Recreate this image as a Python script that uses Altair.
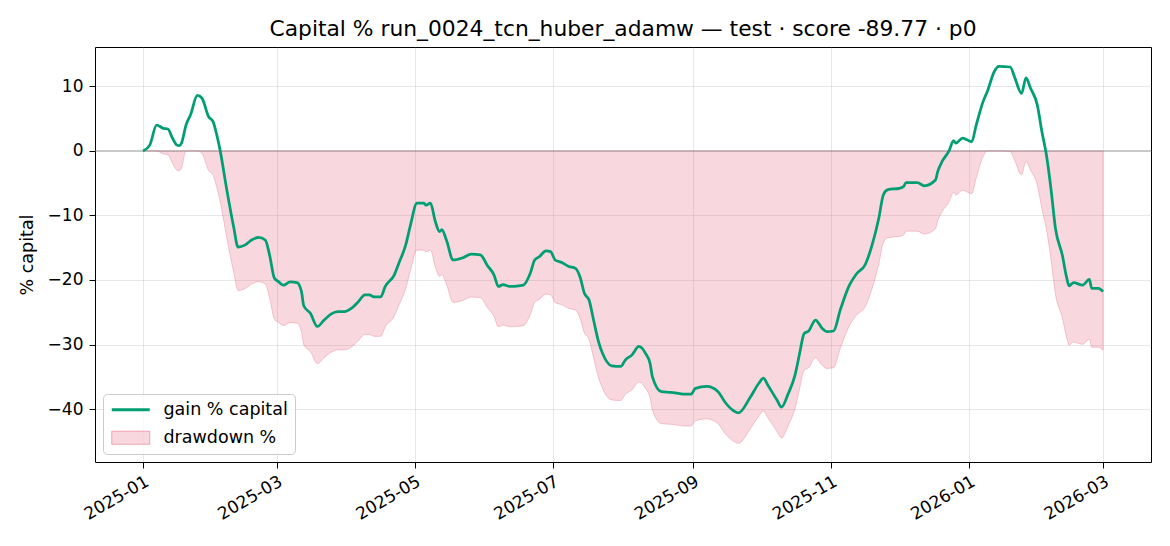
import altair as alt
import numpy as np
import pandas as pd

FONT = "DejaVu Sans"
TITLE = "Capital % run_0024_tcn_huber_adamw — test · score -89.77 · p0"

START = pd.Timestamp("2025-01-01")

# day offsets from START and gain % capital
DAYS = [0, 3, 6, 9, 11, 13, 15, 16, 17, 19, 21, 24, 26, 29, 31, 32, 34, 37, 40, 42,
        45, 48, 51, 54, 56, 58, 60, 62, 65, 68, 70, 71, 74, 77, 80, 83, 86, 89, 92, 95,
        98, 100, 102, 105, 107, 111, 113, 116, 118, 121, 124, 125, 127, 129, 131, 132, 134, 137, 141, 145,
        149, 152, 155, 157, 159, 162, 166, 168, 171, 173, 175, 178, 180, 182, 185, 188, 191, 193, 195, 197,
        199, 201, 203, 207, 211, 213, 216, 219, 222, 224, 225, 229, 233, 237, 239, 242, 244, 249, 254, 257,
        261, 263, 268, 272, 274, 276, 280, 282, 285, 288, 290, 292, 294, 297, 300, 302, 305, 308, 312, 315,
        319, 322, 325, 327, 329, 334, 336, 337, 342, 345, 350, 351, 353, 356, 358, 359, 362, 366, 368, 371,
        373, 376, 378, 383, 385, 388, 390, 392, 395, 397, 399, 401, 403, 406, 408, 409, 411, 415, 418, 419,
        422, 424]
GAIN = [0.0, 0.9, 4.0, 3.5, 3.4, 2.0, 0.9, 0.8, 1.2, 4.0, 5.6, 8.6, 8.2, 5.3, 4.5, 3.3, 0.2, -6.0, -11.7, -14.9,
        -14.6, -13.8, -13.4, -13.8, -16.3, -19.7, -20.3, -20.8, -20.3, -20.4, -21.8, -24.0, -25.2, -27.2, -26.2, -25.3, -24.9, -24.9, -24.4, -23.4,
        -22.3, -22.3, -22.6, -22.6, -21.0, -19.2, -17.4, -14.6, -11.7, -8.1, -8.1, -8.4, -8.1, -10.8, -12.5, -12.2, -13.8, -16.9, -16.6, -16.0,
        -16.1, -17.7, -19.2, -21.0, -20.7, -21.0, -20.9, -20.8, -19.0, -16.9, -16.4, -15.5, -15.6, -16.9, -17.3, -17.9, -18.2, -19.5, -22.1, -23.1,
        -26.2, -29.3, -31.4, -33.3, -33.4, -32.4, -31.6, -30.3, -31.4, -33.0, -35.0, -37.3, -37.4, -37.6, -37.7, -37.7, -36.8, -36.5, -37.3, -38.9,
        -40.3, -40.6, -38.3, -36.0, -35.2, -36.3, -38.6, -39.7, -37.6, -34.7, -31.4, -28.3, -27.9, -26.2, -27.5, -28.0, -27.9, -24.6, -20.8, -19.1,
        -17.6, -14.6, -10.4, -6.8, -6.0, -5.8, -5.5, -4.9, -4.9, -5.4, -4.5, -3.2, -1.6, 0.0, 1.6, 1.2, 2.0, 1.4, 4.0, 7.6,
        9.3, 12.3, 13.1, 13.0, 11.4, 8.9, 11.3, 9.7, 7.1, 3.0, -0.6, -5.8, -12.0, -16.1, -19.7, -20.9, -20.4, -20.8, -19.9, -21.3,
        -21.3, -21.8]

SERIES = ["gain % capital", "drawdown %"]
Y_TICKS = [10, 0, -10, -20, -30, -40]
X_TICKS = ["2025-01", "2025-03", "2025-05", "2025-07", "2025-09", "2025-11", "2026-01", "2026-03"]

GREEN = "#009E73"
PINK = "#e35f7b"

# legend key styles: thin bar for the line, framed patch for the area
KEY_SHAPES = ["M-1,-0.2H4.43V0.2H-1Z", "M-1,-0.93H4.43V0.93H-1Z"]
KEY_FILLS = [GREEN, "rgba(227,95,123,0.25)"]
KEY_STROKES = ["transparent", "rgba(227,95,123,0.5)"]

# derive drawdown from the gain curve
dates = START + pd.to_timedelta(DAYS, unit="D")
equity = 1 + np.array(GAIN) / 100
peak = np.maximum.accumulate(np.maximum(equity, 1.0))
drawdown = (equity / peak - 1) * 100

gain_df = pd.DataFrame({"date": dates, "value": GAIN})
dd_df = pd.DataFrame({"date": dates, "value": drawdown})
zero_df = pd.DataFrame({"value": [0]})
key_df = pd.DataFrame({"series": SERIES})

x_ticks = [alt.DateTime(year=int(s[:4]), month=int(s[5:]), date=1) for s in X_TICKS]
x_dom = [alt.DateTime(year=2024, month=12, date=10, hours=19, minutes=12),
         alt.DateTime(year=2026, month=3, date=22, hours=4, minutes=48)]

legend = alt.Legend(
    title=None, orient="bottom-left", offset=8,
    symbolSize=196, symbolStrokeWidth=1, symbolOpacity=1, labelOffset=36,
    labelFont=FONT, labelFontSize=17.5, labelColor="black", rowPadding=9, padding=7,
    fillColor="rgba(255,255,255,0.8)", strokeColor="#cccccc", cornerRadius=4,
)

x = alt.X("date:T", scale=alt.Scale(domain=x_dom),
          axis=alt.Axis(values=x_ticks, format="%Y-%m", title=None, labelAngle=-30,
                        labelAlign="right", labelBaseline="top", labelPadding=5))
y = alt.Y("value:Q", scale=alt.Scale(domain=[-48.2, 16.1], nice=False, zero=False),
          axis=alt.Axis(values=Y_TICKS, title="% capital", titlePadding=11))

area = alt.Chart(dd_df).mark_area(
    color=PINK, fillOpacity=0.25, stroke=PINK, strokeOpacity=0.3, strokeWidth=1,
    interpolate="monotone"
).encode(x=x, y=y)

zero = alt.Chart(zero_df).mark_rule(color="#808080", opacity=0.7, strokeWidth=1).encode(y="value:Q")

line = alt.Chart(gain_df).mark_line(color=GREEN, strokeWidth=2.75, interpolate="monotone").encode(
    x="date:T", y="value:Q"
)

# invisible layer that only carries the legend
keys = alt.Chart(key_df).mark_point(opacity=0).encode(
    shape=alt.Shape("series:N", scale=alt.Scale(domain=SERIES, range=KEY_SHAPES), legend=legend),
    fill=alt.Fill("series:N", scale=alt.Scale(domain=SERIES, range=KEY_FILLS), legend=legend),
    stroke=alt.Stroke("series:N", scale=alt.Scale(domain=SERIES, range=KEY_STROKES), legend=legend),
)

chart = alt.layer(area, zero, line, keys).properties(
    width=1056, height=415,
    autosize=alt.AutoSizeParams(type="none"),
    padding={"left": 87, "top": 39, "right": 10, "bottom": 70},
    title=alt.Title(TITLE, font=FONT, fontSize=21.8, fontWeight="normal", color="black",
                    anchor="middle", frame="group", offset=6),
).configure_view(
    stroke="black", strokeWidth=1
).configure_axis(
    labelFont=FONT, labelFontSize=17, labelColor="black",
    titleFont=FONT, titleFontSize=17.5, titleFontWeight="normal", titleColor="black",
    tickColor="black", tickSize=6, tickWidth=1, domain=False,
    grid=True, gridColor="#b0b0b0", gridOpacity=0.3, labelPadding=6,
)

chart.save("out.html", embed_options={"renderer": "svg", "actions": False})
